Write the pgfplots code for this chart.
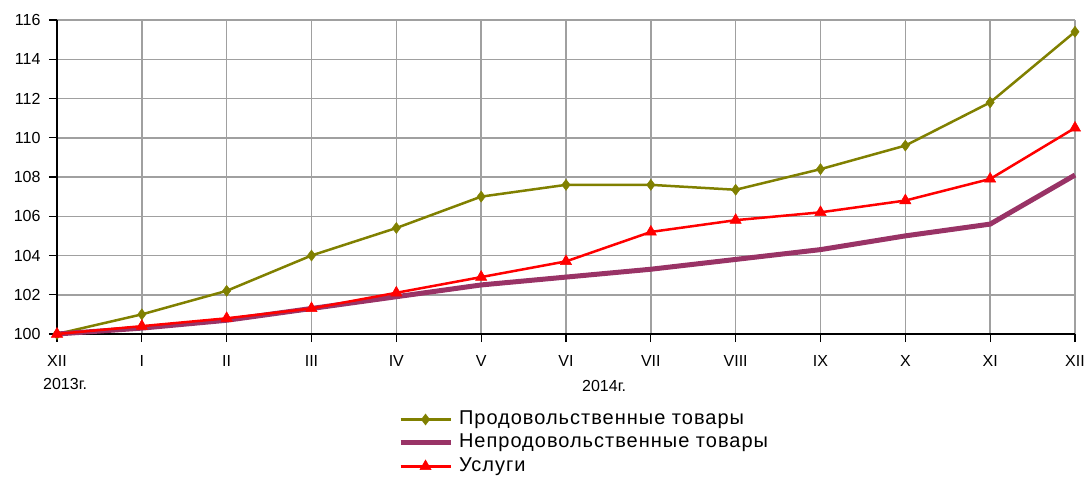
\documentclass[border=0pt]{standalone}
\usepackage{pgfplots}
\pgfplotsset{compat=1.18}
\usepackage{fontspec}
\setmainfont{Liberation Sans}
\definecolor{olivec}{RGB}{128,128,0}
\definecolor{purplec}{RGB}{153,51,102}
\definecolor{gridc}{RGB}{160,160,160}
\begin{document}
\begin{tikzpicture}
\begin{axis}[
  scale only axis,
  width=1018pt, height=314pt,
  xmin=0, xmax=12, ymin=100, ymax=116,
  xtick={0,...,12},
  xticklabels={XII,I,II,III,IV,V,VI,VII,VIII,IX,X,XI,XII},
  ytick={100,102,...,116},
  axis x line*=bottom, axis y line*=left,
  axis line style={black, line width=1.5pt, -},
  grid=major,
  major grid style={gridc, line width=1.5pt},
  tick style={black, line width=1.2pt},
  tick align=outside,
  major tick length=8pt,
  /pgf/number format/assume math mode=true,
  ticklabel style={font=\fontsize{16}{19}\selectfont},
  xticklabel style={yshift=-10pt},
  yticklabel style={xshift=-5pt},
  legend style={draw=none, fill=none, at={(0.335,-0.238)}, anchor=north west,
    inner sep=0pt, outer sep=0pt,
    font=\fontsize{20}{24}\selectfont\addfontfeature{LetterSpace=5},
    nodes={inner sep=1pt, text height=14.5pt, text depth=5pt},
    row sep=2pt, column sep=0pt},
  legend cell align=left,
  legend image code/.code={%
    \draw[mark repeat=2,mark phase=2,#1] plot coordinates {(0pt,0pt) (25pt,0pt) (50pt,0pt)};},
  clip=false,
]
\addplot[olivec, line width=2.5pt, mark=diamond*, mark size=5.5pt, mark options={fill=olivec, line width=0.5pt}]
 coordinates {(0,100) (1,101.0) (2,102.2) (3,104.0) (4,105.4) (5,107.0) (6,107.6) (7,107.6) (8,107.35) (9,108.4) (10,109.6) (11,111.8) (12,115.4)};
\addlegendentry{\hspace{5pt}Продовольственные товары}
\addplot[purplec, line width=5pt]
 coordinates {(0,100) (1,100.3) (2,100.7) (3,101.3) (4,101.9) (5,102.5) (6,102.9) (7,103.3) (8,103.8) (9,104.3) (10,105.0) (11,105.6) (12,108.1)};
\addlegendentry{\hspace{5pt}Непродовольственные товары}
\addplot[red, line width=2.5pt, mark=triangle*, mark size=6.5pt, mark options={fill=red, line width=0.5pt}]
 coordinates {(0,100) (1,100.4) (2,100.8) (3,101.3) (4,102.1) (5,102.9) (6,103.7) (7,105.2) (8,105.8) (9,106.2) (10,106.8) (11,107.9) (12,110.5)};
\addlegendentry{\hspace{5pt}Услуги}
\node[anchor=north west, inner sep=0pt, font=\fontsize{16}{19}\selectfont] at ([xshift=-14pt, yshift=-44pt]axis cs:0,100) {2013г.};
\node[anchor=north west, inner sep=0pt, font=\fontsize{16}{19}\selectfont] at ([xshift=525pt, yshift=-46pt]axis cs:0,100) {2014г.};
\end{axis}
\pgfresetboundingbox
\path[use as bounding box] (-57pt,-143pt) rectangle (1032pt,334pt);
\end{tikzpicture}
\end{document}
